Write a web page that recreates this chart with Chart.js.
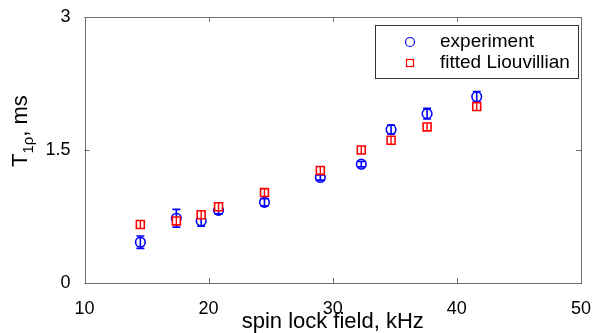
<!DOCTYPE html>
<html>
<head>
<meta charset="utf-8">
<script src="https://cdn.jsdelivr.net/npm/chart.js@4"></script>
<style>
html,body{margin:0;padding:0;background:#fff;}
#wrap{width:598px;height:333px;position:relative;}
</style>
</head>
<body>
<div id="wrap"><canvas id="c" width="598" height="333"></canvas></div>
<script>
// ---- data ----
const spinLockField = [14.5, 17.4, 19.4, 20.8, 24.5, 29.0, 32.3, 34.7, 37.6, 41.6];
const experiment    = [0.46, 0.73, 0.70, 0.82, 0.91, 1.19, 1.34, 1.73, 1.91, 2.10];
const experimentErr = [0.07, 0.10, 0.06, 0.04, 0.04, 0.03, 0.03, 0.05, 0.06, 0.06];
const fitted        = [0.66, 0.70, 0.77, 0.86, 1.02, 1.27, 1.50, 1.61, 1.76, 1.99];
const xTicks = [10, 20, 30, 40, 50];
const yTicks = [0, 1.5, 3];
const legendLabels = ['experiment', 'fitted Liouvillian'];

const BLUE = '#0000ff', RED = '#ff0000', AXIS = '#6e6e6e';
const FONT = '"Liberation Sans", Arial, Helvetica, sans-serif';

const framePlugin = {
  id: 'frame',
  afterDatasetDraw(chart, args) {
    const ctx = chart.ctx;
    const meta = args.meta;
    const ys = chart.scales.y;
    if (args.index === 0) {
      // error bars for experiment
      ctx.save();
      ctx.strokeStyle = BLUE; ctx.lineWidth = 1.6;
      meta.data.forEach((pt, i) => {
        const yt = ys.getPixelForValue(experiment[i] + experimentErr[i]);
        const yb = ys.getPixelForValue(experiment[i] - experimentErr[i]);
        ctx.beginPath();
        ctx.moveTo(pt.x, yt); ctx.lineTo(pt.x, yb);
        ctx.moveTo(pt.x - 4, yt); ctx.lineTo(pt.x + 4, yt);
        ctx.moveTo(pt.x - 4, yb); ctx.lineTo(pt.x + 4, yb);
        ctx.stroke();
      });
      ctx.restore();
    } else if (args.index === 1) {
      ctx.save();
      ctx.strokeStyle = RED; ctx.lineWidth = 1.4;
      meta.data.forEach(pt => {
        ctx.beginPath();
        ctx.moveTo(pt.x, pt.y - 3.8); ctx.lineTo(pt.x, pt.y + 3.8);
        ctx.stroke();
      });
      ctx.restore();
    }
  },
  afterDraw(chart) {
    const ctx = chart.ctx;
    const {left, right, top, bottom} = chart.chartArea;
    const xs = chart.scales.x, ys = chart.scales.y;
    ctx.save();
    // box
    ctx.strokeStyle = AXIS; ctx.lineWidth = 1;
    ctx.strokeRect(Math.round(left) + 0.5, Math.round(top) + 0.5,
                   Math.round(right - left), Math.round(bottom - top));
    // inward ticks
    ctx.beginPath();
    xTicks.forEach(v => {
      const x = Math.round(xs.getPixelForValue(v)) + 0.5;
      ctx.moveTo(x, bottom); ctx.lineTo(x, bottom - 5);
      ctx.moveTo(x, top); ctx.lineTo(x, top + 5);
    });
    yTicks.forEach(v => {
      const y = Math.round(ys.getPixelForValue(v)) + 0.5;
      ctx.moveTo(left, y); ctx.lineTo(left + 5, y);
      ctx.moveTo(right, y); ctx.lineTo(right - 5, y);
    });
    ctx.stroke();

    // legend
    const lx = 375.5, ly = 25.5, lw = 203, lh = 53;
    ctx.fillStyle = '#fff';
    ctx.fillRect(lx, ly, lw, lh);
    ctx.strokeStyle = '#333'; ctx.lineWidth = 1;
    ctx.strokeRect(lx, ly, lw, lh);
    ctx.lineWidth = 1.2;
    ctx.strokeStyle = BLUE;
    ctx.beginPath(); ctx.arc(410, 42, 4.5, 0, Math.PI * 2); ctx.stroke();
    ctx.strokeStyle = RED;
    ctx.strokeRect(406.5, 59.5, 7, 7);
    ctx.fillStyle = '#000';
    ctx.font = '19px ' + FONT;
    ctx.textBaseline = 'middle'; ctx.textAlign = 'left';
    ctx.fillText(legendLabels[0], 440, 42);
    ctx.fillText(legendLabels[1], 440, 63);

    // y axis title: T_{1ρ}, ms
    ctx.save();
    ctx.translate(27, 167);
    ctx.rotate(-Math.PI / 2);
    ctx.textAlign = 'left'; ctx.textBaseline = 'alphabetic';
    ctx.font = '22px ' + FONT;
    ctx.fillText('T', 0, 0);
    let w = ctx.measureText('T').width;
    ctx.font = '15px ' + FONT;
    ctx.fillText('1ρ', w, 6);
    w += ctx.measureText('1ρ').width;
    ctx.font = '22px ' + FONT;
    ctx.fillText(', ms', w, 0);
    ctx.restore();
    ctx.restore();
  }
};

new Chart(document.getElementById('c'), {
  type: 'scatter',
  data: {
    datasets: [
      {
        label: legendLabels[0],
        data: spinLockField.map((x, i) => ({x, y: experiment[i]})),
        pointStyle: 'circle', pointRadius: 4.8,
        borderColor: BLUE, backgroundColor: 'rgba(0,0,0,0)', borderWidth: 1.6,
        order: 1
      },
      {
        label: legendLabels[1],
        data: spinLockField.map((x, i) => ({x, y: fitted[i]})),
        pointStyle: 'rect', pointRadius: 5.6,
        borderColor: RED, backgroundColor: '#ffffff', borderWidth: 1.6,
        order: 0
      }
    ]
  },
  options: {
    responsive: false,
    animation: false,
    events: [],
    layout: {padding: {top: 17, right: 11, left: 0, bottom: 0}},
    plugins: {legend: {display: false}, tooltip: {enabled: false}},
    scales: {
      x: {
        type: 'linear', min: 10, max: 50,
        grid: {display: false},
        border: {display: false},
        ticks: {stepSize: 10, autoSkip: false, maxRotation: 0, padding: 7,
                color: '#000', font: {family: FONT, size: 18}},
        title: {display: true, text: 'spin lock field, kHz', color: '#000',
                font: {family: FONT, size: 22}, padding: {top: 0, bottom: -2}},
        afterFit(s) { s.height = 50; }
      },
      y: {
        type: 'linear', min: 0, max: 3,
        grid: {display: false},
        border: {display: false},
        ticks: {stepSize: 1.5, autoSkip: false, padding: 6,
                color: '#000', font: {family: FONT, size: 18}},
        afterFit(s) { s.width = 84.5; }
      }
    }
  },
  plugins: [framePlugin]
});
</script>
</body>
</html>
